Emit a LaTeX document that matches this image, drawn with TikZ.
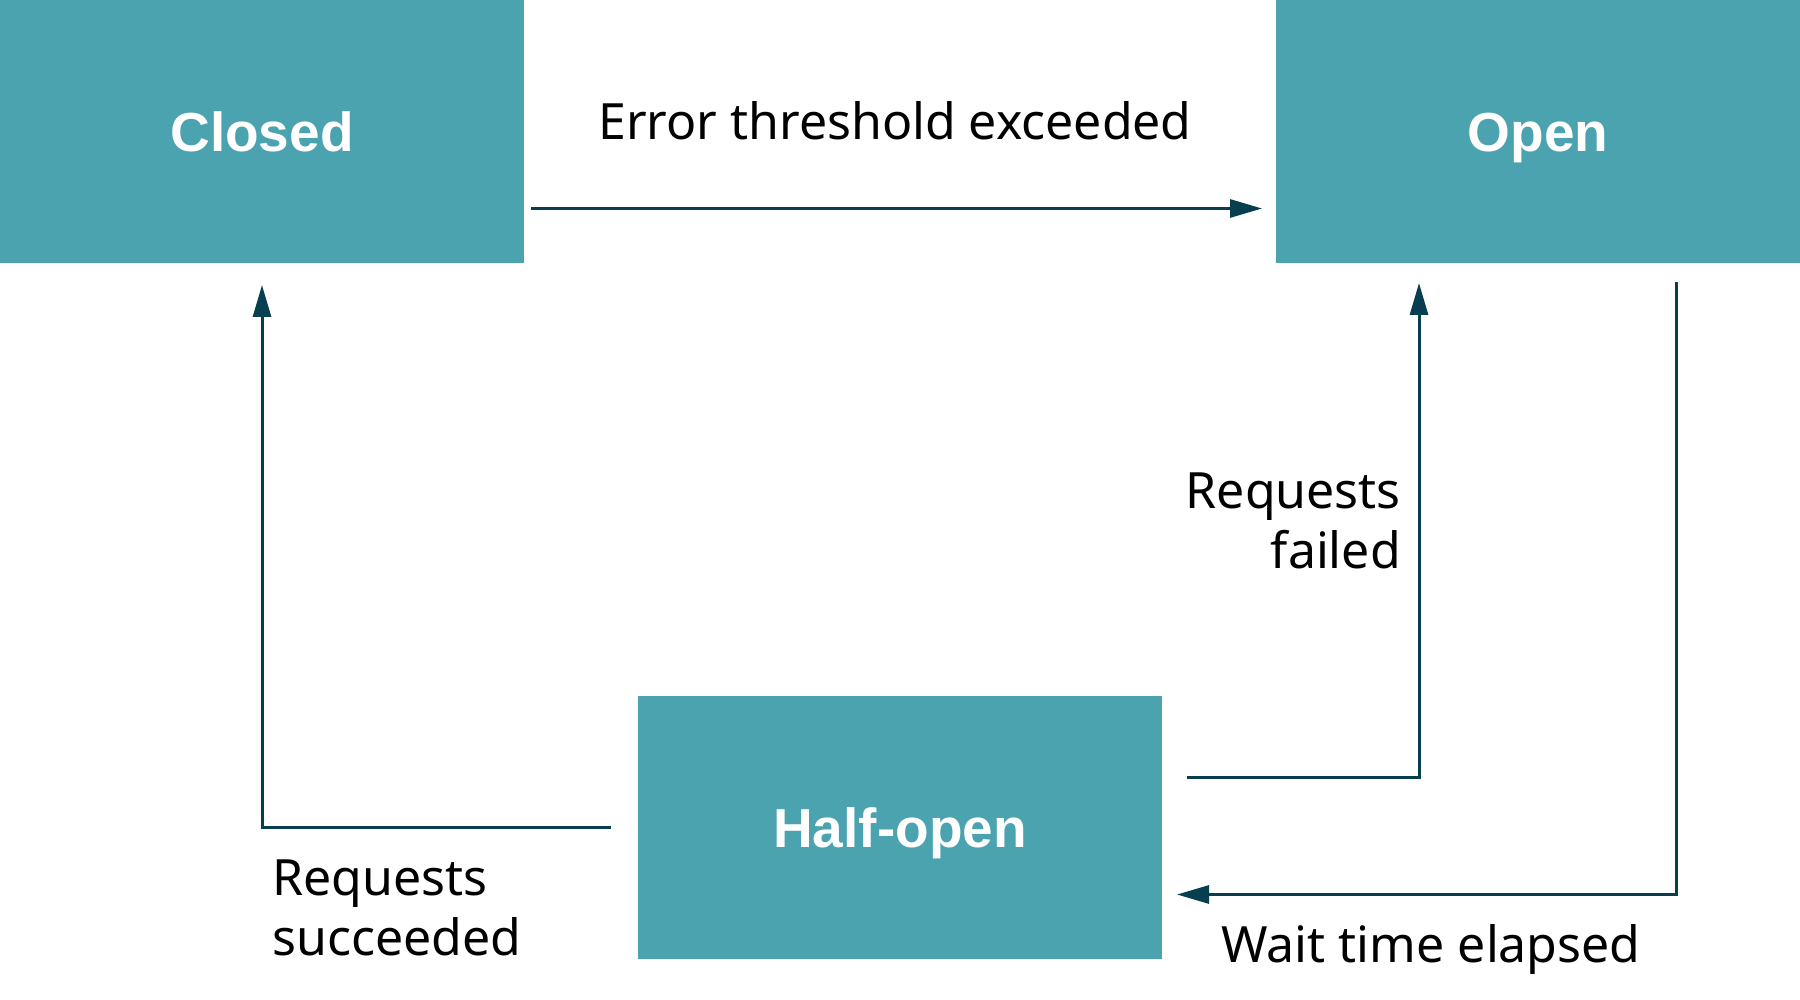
\documentclass[tikz,border=0pt]{standalone}
\usepackage{fontspec}
\setmainfont{Noto Sans}
\newfontfamily\titlefont{Liberation Sans}
\usetikzlibrary{arrows.meta}
\definecolor{boxteal}{HTML}{4AA3AE}
\definecolor{linedark}{HTML}{083F50}
\begin{document}
\begin{tikzpicture}[x=1pt,y=-1pt,
  state/.style={fill=boxteal, text=white, font=\titlefont\fontsize{55}{60}\selectfont\bfseries, minimum width=524pt, minimum height=263pt, inner sep=0pt, outer sep=0pt, text height=40pt, text depth=0pt, anchor=north west},
  conn/.style={draw=linedark, line width=3pt, -{Triangle[length=32pt,width=18pt]}},
  lbl/.style={font=\fontsize{50}{60}\selectfont, text=black, inner sep=0pt}]
\useasboundingbox (0,0) rectangle (1800,1000);
\fill[white] (0,0) rectangle (1800,1000);
\node[state] (closed) at (0,0) {Closed};
\node[state] (open) at (1276,0) {Open};
\node[state] (half) at (638,696) {Half-open};
\draw[conn] ([shift={(7,77)}]closed.east) -- ([shift={(-14,77)}]open.west);
\draw[conn] ([shift={(-27,0)}]half.west) -| ([shift={(0,22)}]closed.south);
\draw[conn] ([shift={(25,-50)}]half.east) -| ([shift={(-119,20)}]open.south);
\draw[conn] ([shift={(138,19)}]open.south) |- ([shift={(15,67)}]half.east);
\node[lbl] (l1) at (895,121) {Error threshold exceeded};
\node[lbl, align=right, anchor=east] (l2) at (1401,521) {Requests\\failed};
\node[lbl, align=left, anchor=west] (l3) at (272,908) {Requests\\succeeded};
\node[lbl] (l4) at (1431,949) {Wait time elapsed};
\end{tikzpicture}
\end{document}
